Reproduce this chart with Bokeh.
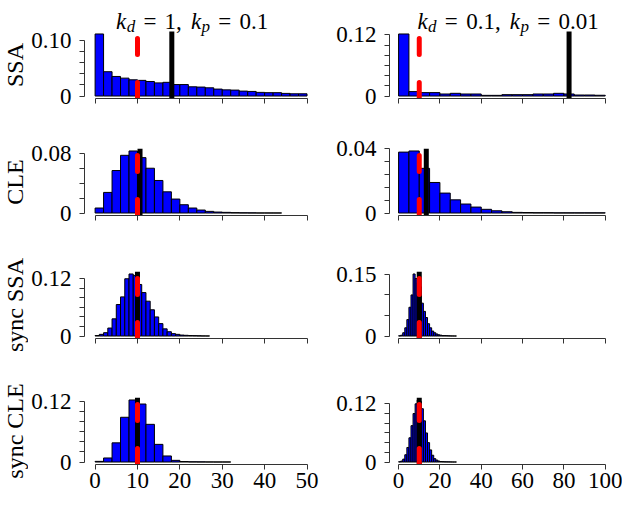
import math
from bokeh.plotting import figure
from bokeh.layouts import row, column
from bokeh.models import Range1d, FixedTicker, CustomJSTickFormatter
from bokeh.core.properties import value
from bokeh.embed import file_html
from bokeh.resources import INLINE

FONT = "Liberation Serif"

# ------------------------------------------------------------------ data
row_labels = ["SSA", "CLE", "sync SSA", "sync CLE"]
col_kd = ["1", "0.1"]
col_kp = ["0.1", "0.01"]
x_max = [50, 100]
x_tick_step = [10, 20]
target_value = 10  # red dashed reference line

# SSA, k_d = 1 (bin width 2)
ssa_kd1_bin = 2
ssa_kd1 = [0.111, 0.0435, 0.035, 0.032, 0.029, 0.028, 0.026, 0.0235, 0.0245,
           0.0205, 0.0205, 0.0165, 0.016, 0.0147, 0.0124, 0.011, 0.0106, 0.0088,
           0.0082, 0.0065, 0.006, 0.006, 0.0047, 0.004, 0.004]
ssa_kd1_mean = 18.1

# SSA, k_d = 0.1 (bin width 5)
ssa_kd01_bin = 5
ssa_kd01 = [0.122, 0.0087, 0.0067, 0.0067, 0.004, 0.0053, 0.004, 0.004, 0.0013,
            0.0013, 0.0027, 0.0027, 0.0027, 0.004, 0.004, 0.0053, 0.004, 0.002,
            0.002, 0.0015]
ssa_kd01_mean = 82.5

# CLE, k_d = 1 (bin width 2)
cle_kd1_bin = 2
cle_kd1 = [0.0067, 0.0276, 0.0569, 0.0773, 0.0831, 0.0742, 0.060, 0.0436, 0.0284,
           0.0187, 0.0111, 0.0067, 0.004, 0.0022, 0.0013, 0.0009, 0.0005, 0.0003,
           0.0002, 0.0001, 0.0001, 0.0001]
cle_kd1_mean = 10.6

# CLE, k_d = 0.1 (bin width 5)
cle_kd01_bin = 5
cle_kd01 = [0.0379, 0.0386, 0.0278, 0.019, 0.0124, 0.0082, 0.0056, 0.0037, 0.0023,
            0.0014, 0.0008, 0.0004, 0.0003, 0.0002, 0.0002, 0.0001, 0.0001, 0.0001,
            0.0001, 0.0001]
cle_kd01_mean = 13.4

# sync SSA, k_d = 1 (bin width 1)
sync_ssa_kd1_bin = 1
sync_ssa_kd1 = [0.001, 0.0035, 0.007, 0.0167, 0.036, 0.066, 0.082, 0.12, 0.130,
                0.127, 0.108, 0.091, 0.073, 0.055, 0.040, 0.026, 0.015, 0.009,
                0.005, 0.0035, 0.002, 0.0015, 0.001, 0.0008, 0.0005, 0.0003, 0.0002]
sync_ssa_kd1_mean = 10.0

# sync SSA, k_d = 0.1 (bin width 1)
sync_ssa_kd01_bin = 1
sync_ssa_kd01 = [0.0005, 0.002, 0.008, 0.02, 0.04, 0.07, 0.10, 0.151, 0.14, 0.13,
                 0.12, 0.08, 0.06, 0.045, 0.03, 0.02, 0.012, 0.008, 0.005, 0.003,
                 0.002, 0.001, 0.001, 0.0008, 0.0005, 0.0003, 0.0002, 0.0001]
sync_ssa_kd01_mean = 10.0

# sync CLE, k_d = 1 (bin width 2)
sync_cle_kd1_bin = 2
sync_cle_kd1 = [0.0013, 0.008, 0.038, 0.0887, 0.123, 0.115, 0.0747, 0.035, 0.012,
                0.0033, 0.001, 0.0005, 0.0003, 0.0002, 0.0001, 0.0001]
sync_cle_kd1_mean = 10.0

# sync CLE, k_d = 0.1 (bin width 1)
sync_cle_kd01_bin = 1
sync_cle_kd01 = [0.0005, 0.002, 0.006, 0.015, 0.03, 0.05, 0.075, 0.10, 0.12, 0.128,
                 0.125, 0.11, 0.085, 0.06, 0.04, 0.025, 0.014, 0.007, 0.004, 0.002,
                 0.001, 0.0008, 0.0005, 0.0004, 0.0003, 0.0002, 0.0001, 0.0001]
sync_cle_kd01_mean = 10.0

# y axis: labelled top tick and minor tick step per panel
y_top_tick = [[0.10, 0.12], [0.08, 0.04], [0.12, 0.15], [0.12, 0.12]]
y_tick_step = [[0.02, 0.02], [0.02, 0.008], [0.02, 0.05], [0.02, 0.02]]

panels = [
    [(ssa_kd1, ssa_kd1_bin, ssa_kd1_mean), (ssa_kd01, ssa_kd01_bin, ssa_kd01_mean)],
    [(cle_kd1, cle_kd1_bin, cle_kd1_mean), (cle_kd01, cle_kd01_bin, cle_kd01_mean)],
    [(sync_ssa_kd1, sync_ssa_kd1_bin, sync_ssa_kd1_mean),
     (sync_ssa_kd01, sync_ssa_kd01_bin, sync_ssa_kd01_mean)],
    [(sync_cle_kd1, sync_cle_kd1_bin, sync_cle_kd1_mean),
     (sync_cle_kd01, sync_cle_kd01_bin, sync_cle_kd01_mean)],
]

# ------------------------------------------------------------------ layout
PAGE = 8
strip_w = 28
col_w = [299, 295]
col_mbl = [55, 62]
col_mbr = [12, 9]
x_pad_lo = [2.5, 4.4]
x_pad_hi = [2.0, 4.0]
row_h = [135, 124, 127, 112]
row_mbt = [0, 13, 12, 11]
extra_top = [31, 0, 0, 0]     # invisible frame space above the data region (title room)
row_mbb = [37, 44, 48, 34]
DATA_H = 67
AX = "#333333"
TICK_PX = "23px"
total_h = sum(row_h)

frame_left_page = [PAGE + strip_w + col_mbl[0], PAGE + strip_w + col_w[0] + col_mbl[1]]
frame_w = [col_w[c] - col_mbl[c] - col_mbr[c] for c in range(2)]
row_top_page = [PAGE + sum(row_h[:r]) for r in range(4)]
data_top_page = [row_top_page[r] + row_mbt[r] + extra_top[r] for r in range(4)]

# title typography
F = 23.0
S = 17.0
W_REG = {"0": 0.5, "1": 0.5, ".": 0.25, ",": 0.25, "=": 0.564}
W_IT = {"k": 0.444, "d": 0.5, "p": 0.5}
title_centers = [199.0, 515.6]
title_base = 28.8
sub_base = 33.5
row_label_x = 22.0


def page_to_x(c, px):
    x0, x1 = -x_pad_lo[c], x_max[c] + x_pad_hi[c]
    return x0 + (px - frame_left_page[c]) * (x1 - x0) / frame_w[c]


def page_to_y(r, y0, y1, py):
    return y1 - (py - data_top_page[r]) * (y1 - y0) / DATA_H


def add_title(p, c, y0, y1):
    pieces = [("k", "italic", F, False), ("d", "italic", S, True), ("=", "normal", F, False),
              (col_kd[c] + ",", "normal", F, False), ("k", "italic", F, False),
              ("p", "italic", S, True), ("=", "normal", F, False), (col_kp[c], "normal", F, False)]
    gap_before = [0, 0.02, 0.36, 0.36, 0.4, 0.02, 0.36, 0.36]
    widths = [(W_IT[t] * sz) if st == "italic" else sum(W_REG[ch] for ch in t) * F
              for (t, st, sz, sub) in pieces]
    gaps = [g * F for g in gap_before]
    total = sum(widths) + sum(gaps)
    x = title_centers[c] - total / 2
    for (t, st, sz, sub), w, g in zip(pieces, widths, gaps):
        x += g
        yb = sub_base if sub else title_base
        p.text(x=[page_to_x(c, x)], y=[page_to_y(0, y0, y1, yb)], text=[t],
               text_font=value(FONT), text_font_size=value(f"{sz}px"),
               text_font_style=st, text_align="left",
               text_baseline="alphabetic", text_color="black")
        x += w


def make_panel(r, c):
    vals, bw, mean = panels[r][c]
    left = [i * bw for i in range(len(vals))]
    right = [(i + 1) * bw for i in range(len(vals))]
    ymax = max(vals)
    y0, y1 = -0.04 * ymax, 1.04 * ymax
    y_end = y1 + extra_top[r] / DATA_H * (y1 - y0)
    p = figure(width=col_w[c], height=row_h[r],
               x_range=Range1d(-x_pad_lo[c], x_max[c] + x_pad_hi[c]),
               y_range=Range1d(y0, y_end),
               toolbar_location=None, output_backend="svg",
               min_border_left=col_mbl[c], min_border_right=col_mbr[c],
               min_border_top=row_mbt[r], min_border_bottom=row_mbb[r])
    p.outline_line_color = None
    p.grid.visible = False
    p.background_fill_color = "white"
    p.border_fill_color = "white"

    p.quad(left=left, right=right, bottom=0, top=vals,
           fill_color="#0000FF", line_color="black", line_width=1)
    p.segment(x0=[mean], y0=[y0], x1=[mean], y1=[y1],
              line_color="black", line_width=5)
    p.segment(x0=[target_value], y0=[y0], x1=[target_value], y1=[y1],
              line_color="#FF0000", line_width=5, line_dash="16 28",
              line_cap="round")

    xa = p.xaxis[0]
    xa.ticker = FixedTicker(ticks=list(range(0, x_max[c] + 1, x_tick_step[c])))
    xa.bounds = (0, x_max[c])
    xa.major_tick_in = 0
    xa.major_tick_out = 5
    xa.minor_tick_out = 0
    xa.minor_tick_in = 0
    xa.axis_line_color = AX
    xa.major_tick_line_color = AX
    xa.major_label_text_font = FONT
    xa.major_label_text_font_size = TICK_PX
    xa.major_label_text_color = "black"
    xa.major_label_standoff = 3
    if r < 3:
        xa.formatter = CustomJSTickFormatter(code="return ''")

    top = y_top_tick[r][c]
    step = y_tick_step[r][c]
    n = int(round(top / step))
    ya = p.yaxis[0]
    ya.ticker = FixedTicker(ticks=[0, top], minor_ticks=[k * step for k in range(1, n)])
    ya.bounds = (0, top)
    ya.major_tick_in = 0
    ya.major_tick_out = 5
    ya.minor_tick_in = 0
    ya.minor_tick_out = 5
    ya.axis_line_color = AX
    ya.major_tick_line_color = AX
    ya.minor_tick_line_color = AX
    ya.major_label_text_font = FONT
    ya.major_label_text_font_size = TICK_PX
    ya.major_label_text_color = "black"
    ya.major_label_standoff = 8
    ya.formatter = CustomJSTickFormatter(code="return tick == 0 ? '0' : tick.toFixed(2);")

    if r == 0:
        add_title(p, c, y0, y1)
    return p


# ---- row label strip (data coordinates = page pixels)
label_strip = figure(width=strip_w, height=total_h,
                     x_range=Range1d(PAGE, PAGE + strip_w),
                     y_range=Range1d(0, total_h),
                     toolbar_location=None, output_backend="svg",
                     x_axis_location=None, y_axis_location=None, min_border=0)
label_strip.grid.visible = False
label_strip.outline_line_color = None
for r in range(4):
    fc = data_top_page[r] + DATA_H / 2
    label_strip.text(x=[row_label_x], y=[PAGE + total_h - fc], text=[row_labels[r]],
                     angle=math.pi / 2, text_font=value(FONT),
                     text_font_size=value("24px"), text_align="center",
                     text_baseline="middle", text_color="black")

grid_rows = [row(make_panel(r, 0), make_panel(r, 1)) for r in range(4)]
layout = row(label_strip, column(*grid_rows))

open("out.html", "w").write(file_html(layout, INLINE))
